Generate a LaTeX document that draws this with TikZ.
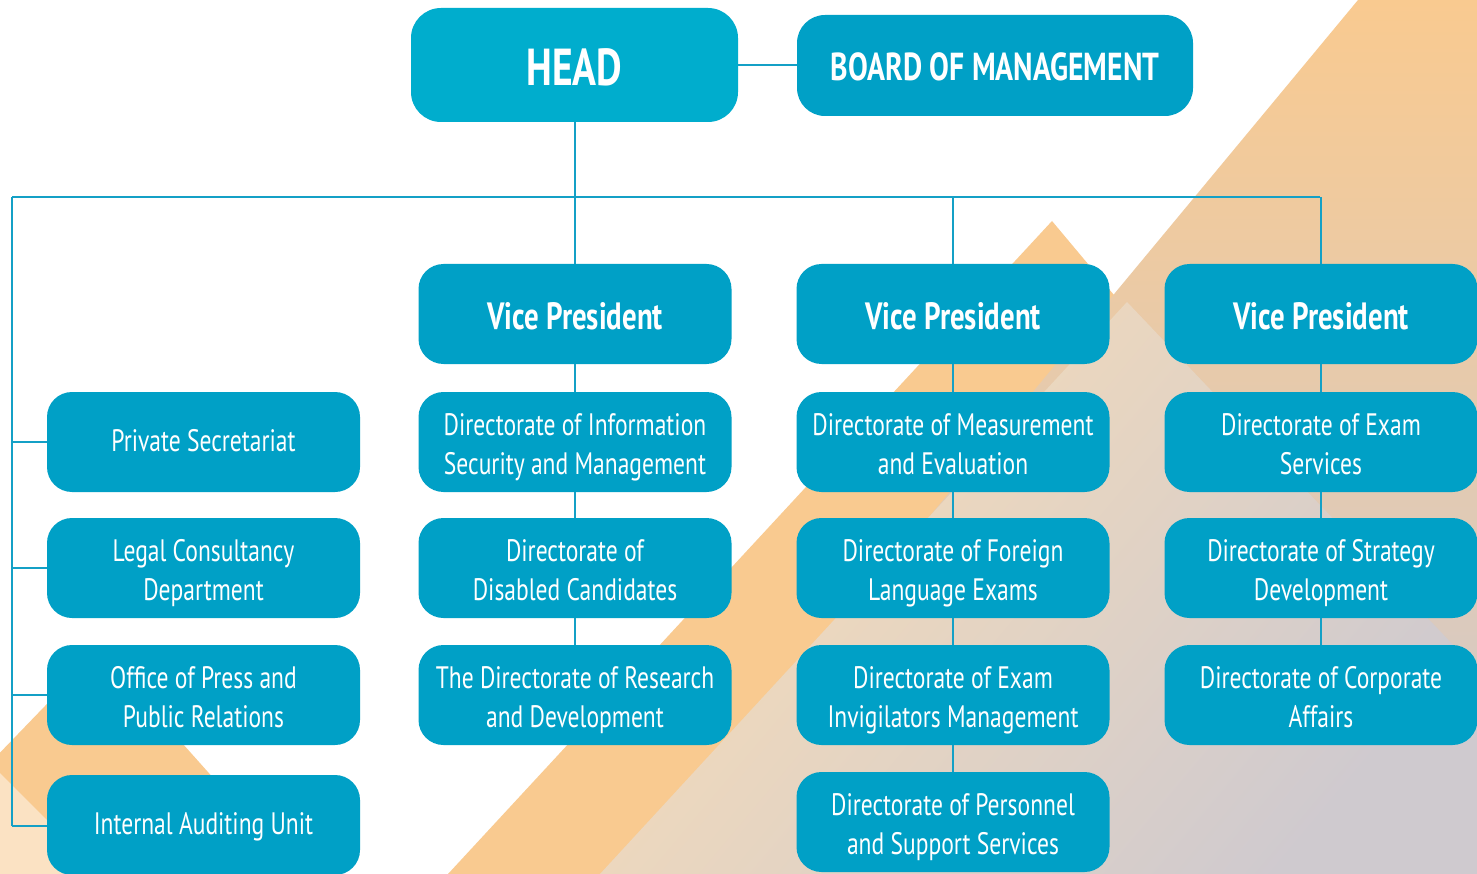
\documentclass[tikz,border=0pt]{standalone}
\usepackage{fontspec}
\setmainfont[FakeStretch=0.76]{PT Sans}
\definecolor{boxc}{HTML}{00A0C6}
\definecolor{headc}{HTML}{00ADCD}
\definecolor{linec}{HTML}{14A0C6}
\definecolor{orng}{HTML}{F9CA90}
\definecolor{peach}{HTML}{F8DDB7}
\definecolor{lpeach}{HTML}{FBE2C3}
\definecolor{brwn}{HTML}{DFC0A5}
\definecolor{gryl}{HTML}{CFCACF}
\newcommand\mystrut{\rule[-8pt]{0pt}{34pt}}
\newcommand\vpstrut{\rule[-7pt]{0pt}{45pt}}
\newcommand\twolines[2]{\raisebox{-11.5pt}[40pt][40pt]{\begin{tabular}{@{}c@{}}#1\\#2\end{tabular}}}
\begin{document}
\begin{tikzpicture}[x=1pt,y=-1pt,
  box/.style={rounded corners=25pt, fill=boxc, text=white, minimum width=313pt, minimum height=100pt, align=center, inner sep=0pt, font=\fontsize{31}{39}\selectfont, execute at begin node=\mystrut},
  two/.style={execute at begin node={}},
  vpbox/.style={rounded corners=25pt, fill=boxc, text=white, minimum width=313pt, minimum height=100pt, inner sep=0pt, font=\bfseries\fontsize{38}{40}\selectfont, execute at begin node=\vpstrut},
  conn/.style={draw=linec, line width=2pt}]
\useasboundingbox (0,0) rectangle (1477,874);
\fill[white] (0,0) rectangle (1477,874);
% background shapes
\fill[orng] (1052,221) -- (1160,350) -- (700,874) -- (448,874) -- cycle;
\shade[top color=orng, middle color=brwn, bottom color=gryl] (1358,0) -- (1477,0) -- (1477,874) -- (633,874) -- cycle;
\shade[top color=peach, middle color=peach, bottom color=gryl, shading angle=50] (1127,302) -- (1477,670) -- (1477,874) -- (600,874) -- cycle;
\fill[orng] (99,650) -- (299,874) -- (-117,874) -- cycle;
\fill[lpeach] (0,773) -- (101,874) -- (0,874) -- cycle;
% top
\node[vpbox, fill=headc, minimum width=327pt, minimum height=114pt, rounded corners=30pt, font=\bfseries\fontsize{52}{54}\selectfont, execute at begin node={}] (head) at (574.5,65) {\rule[-5pt]{0pt}{54pt}HEAD};
\node[vpbox, minimum width=396pt, minimum height=101pt, rounded corners=28pt, font=\bfseries\fontsize{39}{42}\selectfont] (board) at (995,65.5) {BOARD OF MANAGEMENT};
% VPs
\node[vpbox] (vp1) at (575,314) {Vice President};
\node[vpbox] (vp2) at (953,314) {Vice President};
\node[vpbox] (vp3) at (1321,314) {Vice President};
% left column
\node[box] (l1) at (203.5,442) {Private Secretariat};
\node[box, two] (l2) at (203.5,568) {\twolines{Legal Consultancy}{Department}};
\node[box, two] (l3) at (203.5,695) {\twolines{Office of Press and}{Public Relations}};
\node[box] (l4) at (203.5,825) {Internal Auditing Unit};
% column 1
\node[box, two] (a1) at (575,442) {\twolines{Directorate of Information}{Security and Management}};
\node[box, two] (a2) at (575,568) {\twolines{Directorate of}{Disabled Candidates}};
\node[box, two] (a3) at (575,695) {\twolines{The Directorate of Research}{and Development}};
% column 2
\node[box, two] (b1) at (953,442) {\twolines{Directorate of Measurement}{and Evaluation}};
\node[box, two] (b2) at (953,568) {\twolines{Directorate of Foreign}{Language Exams}};
\node[box, two] (b3) at (953,695) {\twolines{Directorate of Exam}{Invigilators Management}};
\node[box, two] (b4) at (953,822) {\twolines{Directorate of Personnel}{and Support Services}};
% column 3
\node[box, two] (c1) at (1321,442) {\twolines{Directorate of Exam}{Services}};
\node[box, two] (c2) at (1321,568) {\twolines{Directorate of Strategy}{Development}};
\node[box, two] (c3) at (1321,695) {\twolines{Directorate of Corporate}{Affairs}};
% connectors
\coordinate (hl) at (12,197);
\coordinate (hr) at (1320,197);
\coordinate (lb) at (12,826);
\draw[conn] (head.east) -- (head.east -| board.west);
\draw[conn] (head.south) -- (head.south |- hl);
\draw[conn] (hl) -- (hr);
\draw[conn] (vp1.north) -- (vp1.north |- hl);
\draw[conn] (vp2.north) -- (vp2.north |- hl);
\draw[conn] (vp3.north) -- (vp3.north |- hl);
\draw[conn] (hl) -- (lb);
\draw[conn] (l1.west -| hl) -- (l1.west);
\draw[conn] (l2.west -| hl) -- (l2.west);
\draw[conn] (l3.west -| hl) -- (l3.west);
\draw[conn] (lb) -- (lb -| l4.west);
\draw[conn] (vp1.south) -- (a1.north);
\draw[conn] (a1.south) -- (a2.north);
\draw[conn] (a2.south) -- (a3.north);
\draw[conn] (vp2.south) -- (b1.north);
\draw[conn] (b1.south) -- (b2.north);
\draw[conn] (b2.south) -- (b3.north);
\draw[conn] (b3.south) -- (b4.north);
\draw[conn] (vp3.south) -- (c1.north);
\draw[conn] (c1.south) -- (c2.north);
\draw[conn] (c2.south) -- (c3.north);
\end{tikzpicture}
\end{document}
